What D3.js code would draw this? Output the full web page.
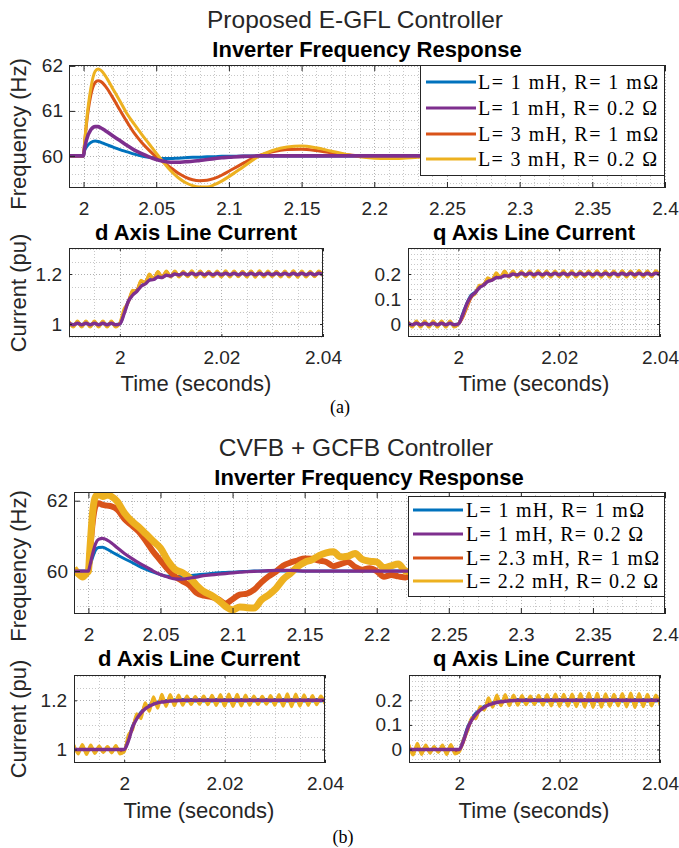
<!DOCTYPE html>
<html>
<head>
<meta charset="utf-8">
<script src="https://cdn.jsdelivr.net/npm/d3@7"></script>
<style>
  body { margin: 0; background: #fff; }
</style>
</head>
<body>
<svg id="fig" width="679" height="848"></svg>
<script>

let cBlue = "#0072bd", cPurple = "#7e2f8e", cOrange = "#d95319", cYellow = "#edb120";
let sans = "'Liberation Sans', Arial, Helvetica, sans-serif";
let serif = "'Liberation Serif', 'Times New Roman', serif";
let ink = "#262626";

// ---------------- DATA ----------------

let legendA = ["L= 1 mH, R= 1 mΩ", "L= 1 mH, R= 0.2 Ω", "L= 3 mH, R= 1 mΩ", "L= 3 mH, R= 0.2 Ω"];
let legendB = ["L= 1 mH, R= 1 mΩ", "L= 1 mH, R= 0.2 Ω", "L= 2.3 mH, R= 1 mΩ", "L= 2.2 mH, R= 0.2 Ω"];

let freqTicks = [2, 2.05, 2.1, 2.15, 2.2, 2.25, 2.3, 2.35, 2.4];
let freqTickLabels = ["2", "2.05", "2.1", "2.15", "2.2", "2.25", "2.3", "2.35", "2.4"];
let curTicks = [2, 2.02, 2.04];
let curTickLabels = ["2", "2.02", "2.04"];
let freqATicksY = [60, 61, 62], freqATickLabelsY = ["60", "61", "62"];
let freqBTicksY = [60, 62], freqBTickLabelsY = ["60", "62"];
let dTicksY = [1, 1.2], dTickLabelsY = ["1", "1.2"];
let qTicksY = [0, 0.1, 0.2], qTickLabelsY = ["0", "0.1", "0.2"];

// (a) frequency, Hz
let freqTimeA = [1.99, 2.0, 2.0005, 2.002, 2.005, 2.008, 2.01, 2.012, 2.015, 2.02, 2.025, 2.03, 2.035, 2.04, 2.045, 2.05, 2.055, 2.06, 2.065, 2.07, 2.075, 2.08, 2.085, 2.09, 2.095, 2.1, 2.11, 2.12, 2.13, 2.14, 2.15, 2.16, 2.17, 2.18, 2.19, 2.2, 2.21, 2.22, 2.23, 2.25, 2.28, 2.3, 2.4];
let freqA_blue = [60, 60, 60.1, 60.2, 60.3, 60.33, 60.32, 60.3, 60.26, 60.2, 60.14, 60.09, 60.04, 60.0, 59.97, 59.95, 59.94, 59.94, 59.95, 59.96, 59.97, 59.97, 59.98, 59.98, 59.99, 59.99, 60, 60, 60, 60, 60, 60, 60, 60, 60, 60, 60, 60, 60, 60, 60, 60, 60];
let freqA_purple = [60, 60, 60.12, 60.35, 60.58, 60.65, 60.65, 60.62, 60.56, 60.45, 60.34, 60.23, 60.13, 60.05, 59.98, 59.92, 59.88, 59.86, 59.86, 59.87, 59.88, 59.9, 59.92, 59.94, 59.96, 59.97, 59.99, 60.0, 60.0, 60, 60, 60, 60, 60, 60, 60, 60, 60, 60, 60, 60, 60, 60];
let freqA_orange = [60, 60, 60.2, 60.7, 61.35, 61.63, 61.67, 61.65, 61.55, 61.3, 61.02, 60.75, 60.5, 60.3, 60.13, 59.98, 59.86, 59.74, 59.62, 59.53, 59.47, 59.45, 59.46, 59.5, 59.57, 59.66, 59.84, 60.0, 60.09, 60.14, 60.15, 60.12, 60.07, 60.03, 60.0, 59.98, 59.97, 59.98, 59.99, 60, 60, 60, 60];
let freqA_yellow = [60, 60, 60.2, 60.75, 61.5, 61.88, 61.93, 61.9, 61.78, 61.5, 61.22, 60.93, 60.7, 60.48, 60.27, 60.06, 59.86, 59.67, 59.52, 59.41, 59.34, 59.31, 59.31, 59.36, 59.44, 59.54, 59.76, 59.98, 60.12, 60.2, 60.22, 60.18, 60.11, 60.04, 59.98, 59.95, 59.94, 59.95, 59.97, 59.99, 60, 60, 60];

// (b) frequency, Hz
let freqTimeB = [1.99, 1.993, 1.996, 1.999, 2.0, 2.001, 2.003, 2.005, 2.007, 2.01, 2.013, 2.016, 2.02, 2.025, 2.03, 2.035, 2.04, 2.045, 2.05, 2.055, 2.06, 2.065, 2.07, 2.075, 2.08, 2.085, 2.09, 2.095, 2.1, 2.105, 2.11, 2.115, 2.12, 2.125, 2.13, 2.135, 2.14, 2.145, 2.15, 2.155, 2.16, 2.165, 2.17, 2.175, 2.18, 2.185, 2.19, 2.195, 2.2, 2.205, 2.21, 2.215, 2.22, 2.225, 2.23, 2.24, 2.26, 2.3, 2.35, 2.4];
let freqB_blue = [60, 60, 60, 60, 60, 60.12, 60.4, 60.6, 60.67, 60.68, 60.62, 60.55, 60.46, 60.35, 60.25, 60.14, 60.05, 59.97, 59.9, 59.85, 59.84, 59.85, 59.87, 59.89, 59.91, 59.93, 59.95, 59.96, 59.97, 59.98, 59.99, 60, 60, 60, 60, 60, 60, 60, 60, 60, 60, 60, 60, 60, 60, 60, 60, 60, 60, 60, 60, 60, 60, 60, 60, 60, 60, 60, 60, 60];
let freqB_purple = [60, 60, 60, 60, 60, 60.15, 60.5, 60.78, 60.9, 60.93, 60.88, 60.8, 60.66, 60.5, 60.36, 60.23, 60.12, 60.0, 59.9, 59.83, 59.78, 59.77, 59.8, 59.83, 59.87, 59.89, 59.91, 59.93, 59.95, 59.97, 59.98, 59.99, 60.0, 60.01, 60.02, 60.02, 60.02, 60.01, 60, 60, 60, 60, 60, 60, 60, 60, 60, 60, 60, 60, 60, 60, 60, 60, 60, 60, 60, 60, 60, 60];
let freqB_orange = [60.05, 59.93, 59.86, 59.95, 60.0, 60.5, 61.4, 61.85, 61.93, 61.88, 61.86, 61.84, 61.75, 61.48, 61.3, 61.12, 60.85, 60.55, 60.3, 60.05, 59.85, 59.72, 59.6, 59.38, 59.3, 59.27, 59.2, 59.08, 59.2, 59.33, 59.36, 59.47, 59.68, 59.85, 59.98, 60.15, 60.24, 60.3, 60.36, 60.35, 60.3, 60.26, 60.14, 60.2, 60.26, 60.12, 60.04, 60.08, 60.0, 59.84, 59.89, 59.85, 59.82, 59.92, 60.02, 60.0, 60.0, 60.0, 60.0, 60.0];
let freqB_yellow = [60.08, 59.92, 59.83, 59.95, 60.0, 60.6, 61.7, 62.12, 62.18, 62.12, 62.16, 62.12, 61.98, 61.65, 61.42, 61.25, 61.05, 60.85, 60.65, 60.3, 60.05, 59.96, 59.82, 59.6, 59.42, 59.32, 59.18, 59.0, 58.9, 58.98, 58.96, 58.95, 59.18, 59.32, 59.5, 59.76, 59.93, 60.12, 60.25, 60.32, 60.44, 60.52, 60.55, 60.4, 60.42, 60.5, 60.33, 60.28, 60.26, 60.1, 60.15, 60.2, 60.0, 59.98, 60.02, 59.98, 60.0, 60.0, 60.0, 60.0];

// line currents, pu, sampled every half ripple period from 1.99 s to 2.04 s
let curTime = d3.range(61).map(i => 1.99 + i * 0.05 / 60);

let aD_blue = [1.002, 0.998, 1.002, 0.998, 1.002, 0.998, 1.002, 0.998, 1.002, 0.998, 1.002, 0.998,
  1.0, 1.045, 1.09, 1.12, 1.135, 1.152, 1.163, 1.177, 1.18, 1.19, 1.188, 1.196, 1.193, 1.201, 1.197,
  1.202, 1.198, 1.202, 1.198, 1.202, 1.198, 1.202, 1.198, 1.202, 1.198, 1.202, 1.198, 1.202, 1.198, 1.202, 1.198, 1.202,
  1.198, 1.202, 1.198, 1.202, 1.198, 1.202, 1.198, 1.202, 1.198, 1.202, 1.198, 1.202, 1.198, 1.202, 1.198, 1.202, 1.198];
let aD_orange = [1.008, 0.99, 1.01, 0.99, 1.01, 0.99, 1.01, 0.99, 1.01, 0.99, 1.01, 0.99,
  1.002, 1.05, 1.09, 1.13, 1.135, 1.17, 1.168, 1.195, 1.182, 1.208, 1.188, 1.21, 1.19,
  1.21, 1.19, 1.209, 1.191, 1.21, 1.19, 1.211, 1.19, 1.21, 1.19, 1.209, 1.19, 1.21, 1.191, 1.21, 1.19, 1.21, 1.19,
  1.211, 1.19, 1.21, 1.19, 1.209, 1.191, 1.21, 1.19, 1.21, 1.19, 1.211, 1.19, 1.21, 1.19, 1.209, 1.19, 1.21, 1.193];
let aD_yellow = [1.01, 0.988, 1.012, 0.988, 1.012, 0.988, 1.012, 0.988, 1.012, 0.988, 1.012, 0.988,
  1.004, 1.06, 1.085, 1.135, 1.13, 1.175, 1.165, 1.2, 1.18, 1.21, 1.185, 1.212, 1.188,
  1.212, 1.188, 1.211, 1.189, 1.213, 1.187, 1.212, 1.188, 1.211, 1.189, 1.212, 1.188, 1.213, 1.188, 1.212, 1.189, 1.211, 1.188,
  1.212, 1.187, 1.213, 1.188, 1.212, 1.189, 1.211, 1.188, 1.212, 1.188, 1.213, 1.187, 1.212, 1.188, 1.211, 1.189, 1.212, 1.192];
let aD_purple = [1.003, 0.997, 1.003, 0.997, 1.003, 0.997, 1.003, 0.997, 1.003, 0.997, 1.003, 0.997,
  1.0, 1.04, 1.09, 1.115, 1.13, 1.15, 1.16, 1.175, 1.178, 1.188, 1.186, 1.195, 1.192, 1.2, 1.196,
  1.203, 1.197, 1.203, 1.197, 1.203, 1.197, 1.203, 1.197, 1.203, 1.197, 1.203, 1.197, 1.203, 1.197, 1.203, 1.197, 1.203,
  1.197, 1.203, 1.197, 1.203, 1.197, 1.203, 1.197, 1.203, 1.197, 1.203, 1.197, 1.203, 1.197, 1.203, 1.197, 1.203, 1.197];

let aQ_blue = [0.002, -0.002, 0.002, -0.002, 0.002, -0.002, 0.002, -0.002, 0.002, -0.002, 0.002, -0.002,
  0.0, 0.04, 0.082, 0.115, 0.128, 0.148, 0.158, 0.172, 0.177, 0.187, 0.188, 0.194, 0.193, 0.201, 0.197,
  0.202, 0.198, 0.202, 0.198, 0.202, 0.198, 0.202, 0.198, 0.202, 0.198, 0.202, 0.198, 0.202, 0.198, 0.202, 0.198, 0.202,
  0.198, 0.202, 0.198, 0.202, 0.198, 0.202, 0.198, 0.202, 0.198, 0.202, 0.198, 0.202, 0.198, 0.202, 0.198, 0.202, 0.198];
let aQ_orange = [0.008, -0.01, 0.01, -0.01, 0.01, -0.01, 0.01, -0.01, 0.01, -0.01, 0.01, -0.01,
  0.0, 0.025, 0.065, 0.105, 0.125, 0.15, 0.158, 0.18, 0.178, 0.2, 0.188, 0.21, 0.19,
  0.21, 0.19, 0.209, 0.191, 0.21, 0.19, 0.211, 0.19, 0.21, 0.19, 0.209, 0.19, 0.21, 0.191, 0.21, 0.19, 0.21, 0.19,
  0.211, 0.19, 0.21, 0.19, 0.209, 0.191, 0.21, 0.19, 0.211, 0.19, 0.21, 0.19, 0.21, 0.19, 0.211, 0.19, 0.21, 0.193];
let aQ_yellow = [0.01, -0.012, 0.012, -0.012, 0.012, -0.012, 0.012, -0.012, 0.012, -0.012, 0.012, -0.012,
  0.0, 0.03, 0.07, 0.11, 0.12, 0.155, 0.155, 0.185, 0.175, 0.205, 0.185, 0.212, 0.188,
  0.212, 0.188, 0.211, 0.189, 0.212, 0.188, 0.213, 0.187, 0.212, 0.188, 0.212, 0.189, 0.213, 0.188, 0.212, 0.188, 0.211, 0.189,
  0.212, 0.188, 0.213, 0.187, 0.212, 0.188, 0.212, 0.189, 0.213, 0.188, 0.212, 0.187, 0.214, 0.188, 0.212, 0.189, 0.213, 0.194];
let aQ_purple = [0.003, -0.003, 0.003, -0.003, 0.003, -0.003, 0.003, -0.003, 0.003, -0.003, 0.003, -0.003,
  0.0, 0.035, 0.08, 0.11, 0.125, 0.145, 0.155, 0.17, 0.175, 0.185, 0.186, 0.193, 0.192, 0.2, 0.196,
  0.203, 0.197, 0.203, 0.197, 0.203, 0.197, 0.203, 0.197, 0.203, 0.197, 0.203, 0.197, 0.203, 0.197, 0.203, 0.197, 0.203,
  0.197, 0.203, 0.197, 0.203, 0.197, 0.203, 0.197, 0.203, 0.197, 0.203, 0.197, 0.203, 0.197, 0.203, 0.197, 0.203, 0.197];

let bD_blue = [1.003, 0.997, 1.003, 0.997, 1.003, 0.997, 1.003, 0.997, 1.003, 0.997, 1.003, 0.997,
  1.0, 1.04, 1.095, 1.128, 1.152, 1.168, 1.18, 1.186, 1.193, 1.195, 1.199, 1.198, 1.202, 1.199, 1.203,
  1.197, 1.203, 1.197, 1.203, 1.197, 1.203, 1.197, 1.203, 1.197, 1.203, 1.197, 1.203, 1.197, 1.203, 1.197, 1.203, 1.197,
  1.203, 1.197, 1.203, 1.197, 1.203, 1.197, 1.203, 1.197, 1.203, 1.197, 1.203, 1.197, 1.203, 1.197, 1.203, 1.197, 1.203];
let bD_orange = [1.012, 0.988, 1.014, 0.986, 1.012, 0.988, 1.01, 0.99, 1.01, 0.99, 1.012, 0.988,
  0.995, 1.05, 1.09, 1.135, 1.14, 1.18, 1.17, 1.205, 1.18, 1.215, 1.185, 1.216, 1.186,
  1.215, 1.186, 1.213, 1.187, 1.212, 1.188, 1.213, 1.187, 1.215, 1.185, 1.217, 1.183, 1.218, 1.182, 1.217, 1.184, 1.215, 1.186,
  1.213, 1.188, 1.212, 1.188, 1.214, 1.186, 1.216, 1.184, 1.218, 1.182, 1.217, 1.184, 1.215, 1.186, 1.213, 1.188, 1.212, 1.19];
let bD_yellow = [1.018, 0.982, 1.02, 0.98, 1.018, 0.984, 1.014, 0.988, 1.012, 0.986, 1.016, 0.982,
  0.99, 1.06, 1.08, 1.145, 1.125, 1.19, 1.155, 1.215, 1.168, 1.225, 1.175, 1.224, 1.178,
  1.222, 1.18, 1.218, 1.183, 1.216, 1.184, 1.218, 1.182, 1.221, 1.179, 1.224, 1.176, 1.226, 1.175, 1.225, 1.177, 1.222, 1.18,
  1.218, 1.183, 1.217, 1.184, 1.22, 1.18, 1.224, 1.176, 1.227, 1.174, 1.226, 1.176, 1.223, 1.179, 1.22, 1.182, 1.218, 1.186];
let bD_purple = [1.0, 1.0, 1.0, 1.0, 1.0, 1.0, 1.0, 1.0, 1.0, 1.0, 1.0, 1.0, 1.0,
  1.035, 1.09, 1.125, 1.148, 1.165, 1.176, 1.184, 1.19, 1.193, 1.195, 1.197, 1.198, 1.199,
  1.2, 1.2, 1.2, 1.2, 1.2, 1.2, 1.2, 1.2, 1.2, 1.2, 1.2, 1.2, 1.2, 1.2, 1.2, 1.2, 1.2, 1.2,
  1.2, 1.2, 1.2, 1.2, 1.2, 1.2, 1.2, 1.2, 1.2, 1.2, 1.2, 1.2, 1.2, 1.2, 1.2, 1.2, 1.2];

let bQ_blue = [0.003, -0.003, 0.003, -0.003, 0.003, -0.003, 0.003, -0.003, 0.003, -0.003, 0.003, -0.003,
  0.0, 0.04, 0.09, 0.125, 0.148, 0.163, 0.176, 0.183, 0.19, 0.192, 0.197, 0.196, 0.201, 0.198, 0.203,
  0.197, 0.203, 0.197, 0.203, 0.197, 0.203, 0.197, 0.203, 0.197, 0.203, 0.197, 0.203, 0.197, 0.203, 0.197, 0.203, 0.197,
  0.203, 0.197, 0.203, 0.197, 0.203, 0.197, 0.203, 0.197, 0.203, 0.197, 0.203, 0.197, 0.203, 0.197, 0.203, 0.197, 0.203];
let bQ_orange = [0.014, -0.015, 0.016, -0.014, 0.012, -0.01, 0.008, -0.008, 0.012, -0.014, 0.014, -0.012,
  -0.005, 0.03, 0.08, 0.12, 0.135, 0.165, 0.165, 0.2, 0.178, 0.212, 0.182, 0.215, 0.184,
  0.215, 0.185, 0.214, 0.186, 0.213, 0.187, 0.214, 0.186, 0.216, 0.184, 0.217, 0.183, 0.217, 0.183, 0.218, 0.182, 0.219, 0.181,
  0.22, 0.18, 0.219, 0.181, 0.218, 0.183, 0.217, 0.184, 0.219, 0.182, 0.22, 0.18, 0.219, 0.182, 0.217, 0.184, 0.215, 0.188];
let bQ_yellow = [0.02, -0.022, 0.025, -0.02, 0.018, -0.015, 0.012, -0.012, 0.018, -0.02, 0.02, -0.018,
  -0.01, 0.04, 0.075, 0.13, 0.125, 0.175, 0.16, 0.21, 0.172, 0.222, 0.178, 0.224, 0.178,
  0.222, 0.18, 0.22, 0.182, 0.218, 0.183, 0.221, 0.18, 0.224, 0.177, 0.226, 0.175, 0.225, 0.176, 0.226, 0.174, 0.228, 0.172,
  0.23, 0.171, 0.229, 0.172, 0.227, 0.175, 0.225, 0.177, 0.228, 0.173, 0.23, 0.171, 0.228, 0.174, 0.225, 0.177, 0.222, 0.182];
let bQ_purple = [0, 0, 0, 0, 0, 0, 0, 0, 0, 0, 0, 0, 0,
  0.035, 0.085, 0.12, 0.143, 0.16, 0.172, 0.181, 0.187, 0.191, 0.194, 0.196, 0.198, 0.199,
  0.2, 0.2, 0.2, 0.2, 0.2, 0.2, 0.2, 0.2, 0.2, 0.2, 0.2, 0.2, 0.2, 0.2, 0.2, 0.2, 0.2, 0.2,
  0.2, 0.2, 0.2, 0.2, 0.2, 0.2, 0.2, 0.2, 0.2, 0.2, 0.2, 0.2, 0.2, 0.2, 0.2, 0.2, 0.2];


// ---------------- PANELS ----------------

let svg = d3.select("#fig");

let panels = [
  { box: [69, 665, 65, 188], xd: [1.99, 2.4], yd: [59.287, 62.02], t: freqTimeA,
    xt: freqTicks, xl: freqTickLabels, yt: freqATicksY, yl: freqATickLabelsY,
    mx: 0.01, my: 0.2, tick: 6, ypad: 6,
    series: [[freqA_blue, cBlue, 3], [freqA_orange, cOrange, 3], [freqA_yellow, cYellow, 3], [freqA_purple, cPurple, 3.6]],
    legend: { names: legendA, box: [420, 665, 65, 176], rows: [82, 108, 134, 159], line: [426, 476], text: 478,
              widths: [180, 179, 180, 179] } },
  { box: [69, 323, 248, 337], xd: [1.99, 2.04], yd: [0.948, 1.304], t: curTime,
    xt: curTicks, xl: curTickLabels, yt: dTicksY, yl: dTickLabelsY,
    mx: 0.005, my: 0.05, tick: 3, ypad: 7,
    series: [[aD_blue, cBlue, 3], [aD_orange, cOrange, 3], [aD_yellow, cYellow, 3], [aD_purple, cPurple, 3.4]] },
  { box: [408, 660, 248, 337], xd: [1.99, 2.04], yd: [-0.052, 0.304], t: curTime,
    xt: curTicks, xl: curTickLabels, yt: qTicksY, yl: qTickLabelsY,
    mx: 0.0025, my: 0.02, tick: 3, ypad: 7,
    series: [[aQ_blue, cBlue, 3], [aQ_orange, cOrange, 3], [aQ_yellow, cYellow, 3], [aQ_purple, cPurple, 3.4]] },
  { box: [74, 665, 492, 614], xd: [1.99, 2.4], yd: [58.78, 62.247], t: freqTimeB,
    xt: freqTicks, xl: freqTickLabels, yt: freqBTicksY, yl: freqBTickLabelsY,
    mx: 0.01, my: 0.5, tick: 6, ypad: 6,
    series: [[freqB_blue, cBlue, 3], [freqB_orange, cOrange, 6], [freqB_yellow, cYellow, 7], [freqB_purple, cPurple, 3.2]],
    legend: { names: legendB, box: [408, 665, 496, 597], rows: [510, 534, 558, 581], line: [413, 463], text: 466,
              widths: [178, 177, 193, 192] } },
  { box: [74, 325, 675, 763], xd: [1.99, 2.04], yd: [0.945, 1.303], t: curTime,
    xt: curTicks, xl: curTickLabels, yt: dTicksY, yl: dTickLabelsY,
    mx: 0.005, my: 0.05, tick: 3, ypad: 7,
    series: [[bD_blue, cBlue, 3], [bD_orange, cOrange, 3], [bD_yellow, cYellow, 3], [bD_purple, cPurple, 3.4]] },
  { box: [409, 660, 675, 763], xd: [1.99, 2.04], yd: [-0.055, 0.303], t: curTime,
    xt: curTicks, xl: curTickLabels, yt: qTicksY, yl: qTickLabelsY,
    mx: 0.0025, my: 0.02, tick: 3, ypad: 7,
    series: [[bQ_blue, cBlue, 3], [bQ_orange, cOrange, 3], [bQ_yellow, cYellow, 3], [bQ_purple, cPurple, 3.4]] }
];

panels.forEach((p, i) => drawPanel(p, i));

// text
let labels = [
  ["Proposed E-GFL Controller", 355, 19, 24.5, "normal", 0],
  ["Inverter Frequency Response", 367, 49, 22, "bold", 0],
  ["Frequency (Hz)", 18, 134, 22, "normal", -90],
  ["d Axis Line Current", 196, 232, 22, "bold", 0],
  ["q Axis Line Current", 534, 232, 22, "bold", 0],
  ["Current (pu)", 18, 293, 22, "normal", -90],
  ["Time (seconds)", 196, 383, 22, "normal", 0],
  ["Time (seconds)", 534, 383, 22, "normal", 0],
  ["CVFB + GCFB Controller", 356, 447, 24.5, "normal", 0],
  ["Inverter Frequency Response", 369, 477, 22, "bold", 0],
  ["Frequency (Hz)", 18, 566, 22, "normal", -90],
  ["d Axis Line Current", 199, 658, 22, "bold", 0],
  ["q Axis Line Current", 534, 658, 22, "bold", 0],
  ["Current (pu)", 18, 719, 22, "normal", -90],
  ["Time (seconds)", 199, 810, 22, "normal", 0],
  ["Time (seconds)", 534, 810, 22, "normal", 0]
];

for (let l of labels) {
  svg.append("text")
    .attr("transform", `translate(${l[1]},${l[2]}) rotate(${l[5]})`)
    .attr("text-anchor", "middle")
    .attr("dominant-baseline", "central")
    .attr("font-family", sans)
    .attr("font-size", l[3])
    .attr("font-weight", l[4])
    .attr("fill", l[4] == "bold" ? "#000" : ink)
    .text(l[0]);
}

svg.append("text").attr("x", 340).attr("y", 407).attr("text-anchor", "middle").attr("dominant-baseline", "central")
  .attr("font-family", serif).attr("font-size", 18).text("(a)");
svg.append("text").attr("x", 343).attr("y", 837).attr("text-anchor", "middle").attr("dominant-baseline", "central")
  .attr("font-family", serif).attr("font-size", 18).text("(b)");


function drawPanel (p, idx) {
  let [L, R, T, B] = p.box;
  let x = d3.scaleLinear().domain(p.xd).range([L, R]);
  let y = d3.scaleLinear().domain(p.yd).range([B, T]);
  let g = svg.append("g");

  // dotted grid, minor spacing (major lines fall on it too)
  let grid = g.append("g")
    .attr("stroke-width", 1)
    .attr("stroke-dasharray", "1,2");
  let isMajor = (v, ticks) => ticks.some(t => Math.abs(t - v) < 1e-6);

  grid.selectAll(".gx").data(stepValues(p.xd, p.mx)).enter().append("line")
    .attr("x1", d => Math.round(x(d)) + 0.5).attr("x2", d => Math.round(x(d)) + 0.5)
    .attr("y1", T).attr("y2", B)
    .attr("stroke", d => isMajor(d, p.xt) ? "#b0b0b0" : "#c8c8c8");
  grid.selectAll(".gy").data(stepValues(p.yd, p.my)).enter().append("line")
    .attr("y1", d => Math.round(y(d)) + 0.5).attr("y2", d => Math.round(y(d)) + 0.5)
    .attr("x1", L).attr("x2", R)
    .attr("stroke", d => isMajor(d, p.yt) ? "#b0b0b0" : "#c8c8c8");

  // lines, clipped to the axes
  let clipId = "clip" + idx;
  g.append("clipPath").attr("id", clipId)
    .append("rect").attr("x", L).attr("y", T).attr("width", R - L).attr("height", B - T);

  let line = d3.line()
    .x((d, i) => x(p.t[i]))
    .y(d => y(d))
    .curve(d3.curveMonotoneX);

  g.append("g").attr("clip-path", `url(#${clipId})`)
    .selectAll("path").data(p.series).enter().append("path")
    .attr("d", d => line(d[0]))
    .attr("fill", "none")
    .attr("stroke", d => d[1])
    .attr("stroke-width", d => d[2])
    .attr("stroke-linejoin", "round");

  // axes, ticks pointing inward on all four sides
  let ax = g.append("g").style("color", ink);
  let bottom = ax.append("g").attr("transform", `translate(0,${B})`)
    .call(d3.axisBottom(x).tickValues(p.xt).tickFormat((d, i) => p.xl[i]).tickSize(-p.tick).tickPadding(14));
  let top = ax.append("g").attr("transform", `translate(0,${T})`)
    .call(d3.axisTop(x).tickValues(p.xt).tickFormat("").tickSize(-p.tick));
  let left = ax.append("g").attr("transform", `translate(${L},0)`)
    .call(d3.axisLeft(y).tickValues(p.yt).tickFormat((d, i) => p.yl[i]).tickSize(-p.tick).tickPadding(p.ypad));
  let right = ax.append("g").attr("transform", `translate(${R},0)`)
    .call(d3.axisRight(y).tickValues(p.yt).tickFormat("").tickSize(-p.tick));
  ax.selectAll(".domain").remove();
  [bottom, top, left, right].forEach(a => a.attr("font-family", sans).attr("font-size", 19));

  g.append("rect")
    .attr("x", L + 0.5).attr("y", T + 0.5).attr("width", R - L - 1).attr("height", B - T - 1)
    .attr("fill", "none").attr("stroke", ink).attr("stroke-width", 1);

  if (p.legend) drawLegend(p);
}


function drawLegend (p) {
  let lg = p.legend;
  let [L, R, T, B] = lg.box;
  let g = svg.append("g");
  g.append("rect")
    .attr("x", L + 0.5).attr("y", T + 0.5).attr("width", R - L - 1).attr("height", B - T - 1)
    .attr("fill", "#fff").attr("stroke", ink).attr("stroke-width", 1);
  let colors = [cBlue, cPurple, cOrange, cYellow];
  lg.names.forEach((n, i) => {
    g.append("line")
      .attr("x1", lg.line[0]).attr("x2", lg.line[1])
      .attr("y1", lg.rows[i]).attr("y2", lg.rows[i])
      .attr("stroke", colors[i]).attr("stroke-width", 3);
    g.append("text")
      .attr("x", lg.text).attr("y", lg.rows[i])
      .attr("dominant-baseline", "central")
      .attr("font-family", serif).attr("font-size", 20)
      .attr("fill", "#000")
      .attr("textLength", lg.widths[i]).attr("lengthAdjust", "spacing")
      .text(n);
  });
}


// HELPER

function stepValues (domain, step) {
  let k0 = Math.ceil(domain[0] / step - 1e-6), k1 = Math.floor(domain[1] / step + 1e-6);
  return d3.range(k0, k1 + 1).map(k => +(k * step).toFixed(6));
}

</script>
</body>
</html>
